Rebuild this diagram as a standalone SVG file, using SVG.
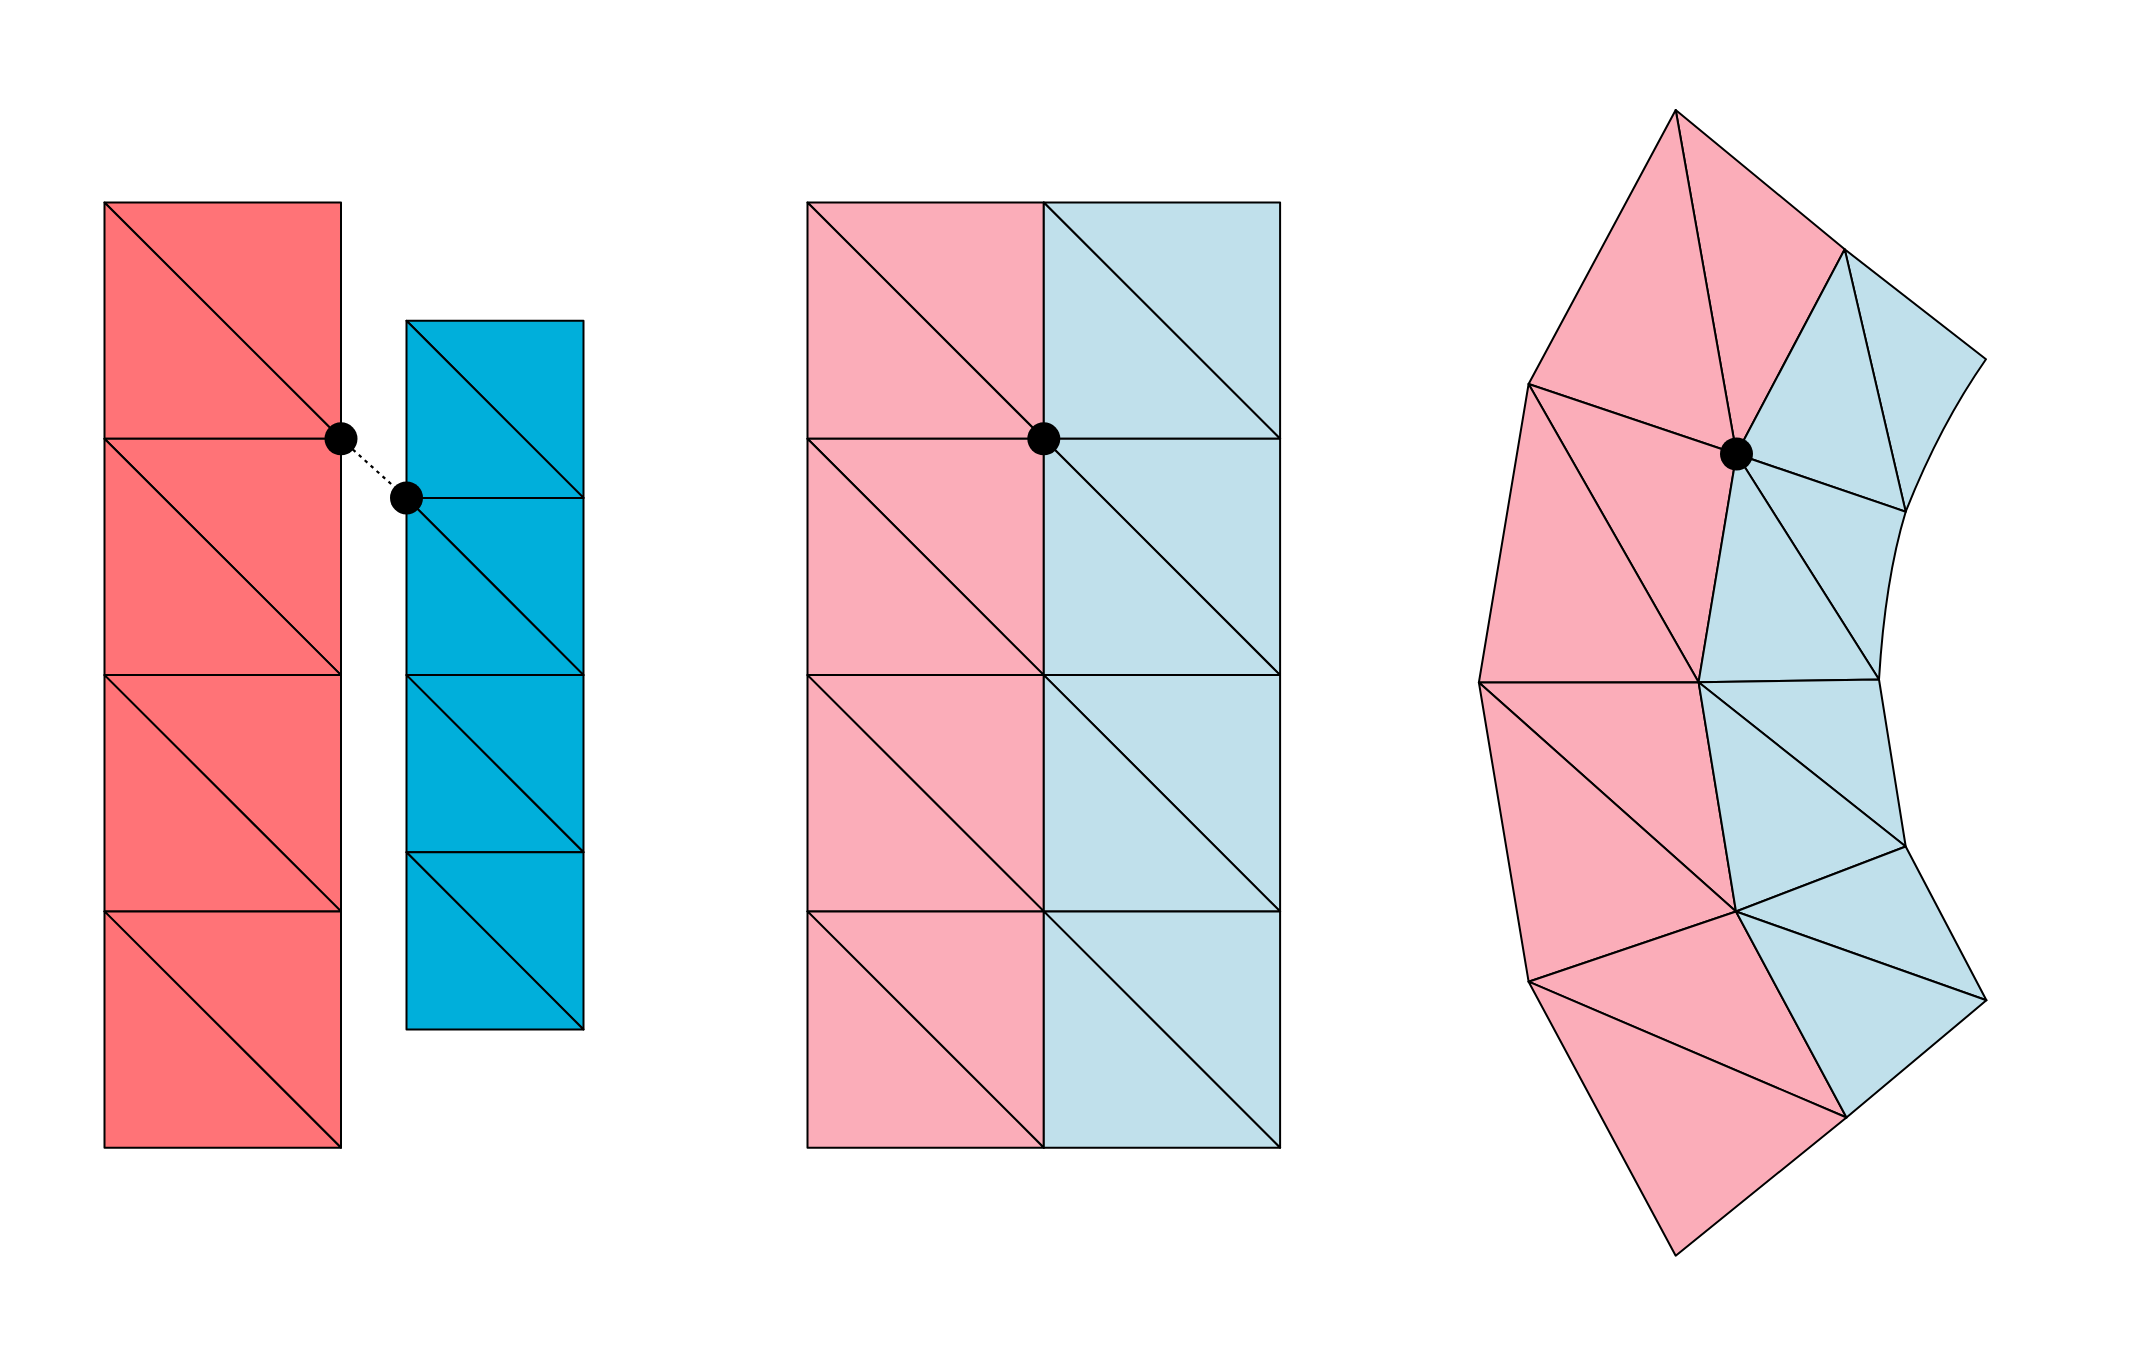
<svg xmlns="http://www.w3.org/2000/svg" width="2131" height="1348" viewBox="0 0 2131 1348">
<style>
.t{stroke:#000;stroke-width:2;stroke-linejoin:round}
.red{fill:#FF7377}
.blu{fill:#00AFDB}
.pk{fill:#FBADB9}
.lb{fill:#C0E0EB}
.dot{fill:#000}
.conn{stroke:#000;stroke-width:2.2;stroke-dasharray:3.5,4.5;fill:none}
</style>
<rect width="2131" height="1348" fill="#fff"/>
<g id="mesh-red">
<polygon class="t red" points="104.5,202.5 341,202.5 341,438.8"/>
<polygon class="t red" points="104.5,202.5 341,438.8 104.5,438.8"/>
<polygon class="t red" points="104.5,438.8 341,438.8 341,675.1"/>
<polygon class="t red" points="104.5,438.8 341,675.1 104.5,675.1"/>
<polygon class="t red" points="104.5,675.1 341,675.1 341,911.4"/>
<polygon class="t red" points="104.5,675.1 341,911.4 104.5,911.4"/>
<polygon class="t red" points="104.5,911.4 341,911.4 341,1147.7"/>
<polygon class="t red" points="104.5,911.4 341,1147.7 104.5,1147.7"/>
</g>
<g id="mesh-blue">
<polygon class="t blu" points="406.5,320.7 583.5,320.7 583.5,497.9"/>
<polygon class="t blu" points="406.5,320.7 583.5,497.9 406.5,497.9"/>
<polygon class="t blu" points="406.5,497.9 583.5,497.9 583.5,675.1"/>
<polygon class="t blu" points="406.5,497.9 583.5,675.1 406.5,675.1"/>
<polygon class="t blu" points="406.5,675.1 583.5,675.1 583.5,852.3"/>
<polygon class="t blu" points="406.5,675.1 583.5,852.3 406.5,852.3"/>
<polygon class="t blu" points="406.5,852.3 583.5,852.3 583.5,1029.5"/>
<polygon class="t blu" points="406.5,852.3 583.5,1029.5 406.5,1029.5"/>
</g>
<g id="mesh-merged">
<polygon class="t pk" points="807.5,202.5 1043.8,202.5 1043.8,438.8"/>
<polygon class="t pk" points="807.5,202.5 1043.8,438.8 807.5,438.8"/>
<polygon class="t pk" points="807.5,438.8 1043.8,438.8 1043.8,675.1"/>
<polygon class="t pk" points="807.5,438.8 1043.8,675.1 807.5,675.1"/>
<polygon class="t pk" points="807.5,675.1 1043.8,675.1 1043.8,911.4"/>
<polygon class="t pk" points="807.5,675.1 1043.8,911.4 807.5,911.4"/>
<polygon class="t pk" points="807.5,911.4 1043.8,911.4 1043.8,1147.7"/>
<polygon class="t pk" points="807.5,911.4 1043.8,1147.7 807.5,1147.7"/>
<polygon class="t lb" points="1043.8,202.5 1280.1,202.5 1280.1,438.8"/>
<polygon class="t lb" points="1043.8,202.5 1280.1,438.8 1043.8,438.8"/>
<polygon class="t lb" points="1043.8,438.8 1280.1,438.8 1280.1,675.1"/>
<polygon class="t lb" points="1043.8,438.8 1280.1,675.1 1043.8,675.1"/>
<polygon class="t lb" points="1043.8,675.1 1280.1,675.1 1280.1,911.4"/>
<polygon class="t lb" points="1043.8,675.1 1280.1,911.4 1043.8,911.4"/>
<polygon class="t lb" points="1043.8,911.4 1280.1,911.4 1280.1,1147.7"/>
<polygon class="t lb" points="1043.8,911.4 1280.1,1147.7 1043.8,1147.7"/>
</g>
<g id="mesh-deformed">
<polygon class="t pk" points="1675.7,110 1844.7,249.3 1736.5,454"/>
<polygon class="t pk" points="1675.7,110 1736.5,454 1528.6,384"/>
<polygon class="t pk" points="1528.6,384 1736.5,454 1698.6,682.2"/>
<polygon class="t pk" points="1528.6,384 1698.6,682.2 1478.9,682.5"/>
<polygon class="t pk" points="1478.9,682.5 1698.6,682.2 1736,911.5"/>
<polygon class="t pk" points="1478.9,682.5 1736,911.5 1528.6,981.7"/>
<polygon class="t pk" points="1528.6,981.7 1736,911.5 1846.5,1117.5"/>
<polygon class="t pk" points="1528.6,981.7 1846.5,1117.5 1675.7,1255.7"/>
<path class="t lb" d="M1844.7,249.3 L1986,359.3 Q1940,425 1905.7,511.7 Z"/>
<polygon class="t lb" points="1844.7,249.3 1905.7,511.7 1736.5,454"/>
<path class="t lb" d="M1736.5,454 L1905.7,511.7 Q1885,580 1879,679.5 Z"/>
<polygon class="t lb" points="1736.5,454 1879,679.5 1698.6,682.2"/>
<polygon class="t lb" points="1698.6,682.2 1879,679.5 1905.7,846.5"/>
<polygon class="t lb" points="1698.6,682.2 1905.7,846.5 1736,911.5"/>
<polygon class="t lb" points="1736,911.5 1905.7,846.5 1986.4,1000.3"/>
<polygon class="t lb" points="1736,911.5 1986.4,1000.3 1846.5,1117.5"/>
</g>
<g id="connectors">
<line class="conn" x1="341" y1="438.8" x2="406.5" y2="497.9"/>
</g>
<g id="node-red-vertex"><circle class="dot" cx="341" cy="438.8" r="16.5"/></g>
<g id="node-blue-vertex"><circle class="dot" cx="406.5" cy="497.9" r="16.5"/></g>
<g id="node-merged-vertex"><circle class="dot" cx="1043.8" cy="438.8" r="16.5"/></g>
<g id="node-deformed-vertex"><circle class="dot" cx="1736.5" cy="454" r="16.5"/></g>
</svg>
